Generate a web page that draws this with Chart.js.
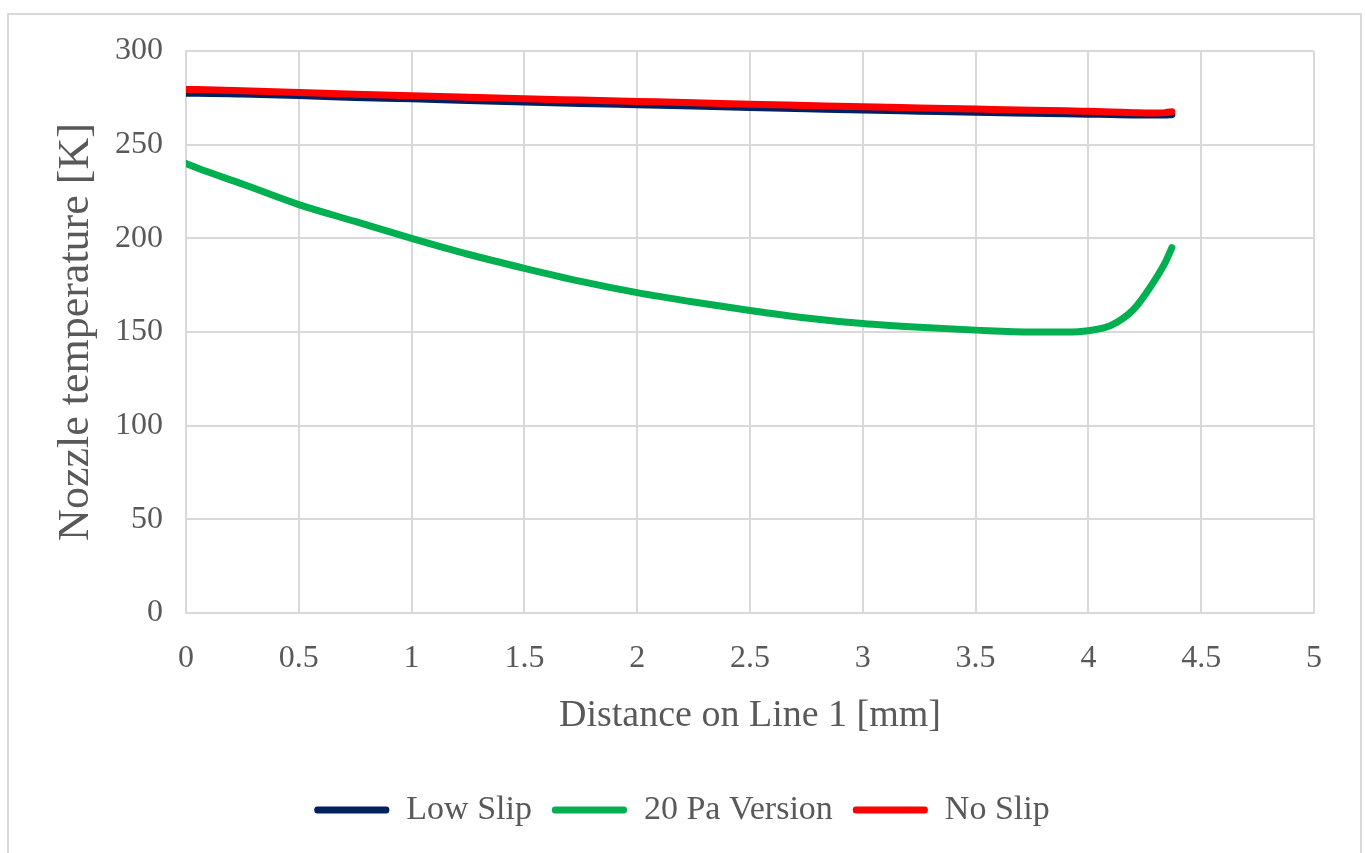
<!DOCTYPE html>
<html>
<head>
<meta charset="utf-8">
<script src="https://cdn.jsdelivr.net/npm/chart.js@4.4.1/dist/chart.umd.min.js"></script>
<style>
  body { margin: 0; background: #ffffff; }
  #frame { position: absolute; left: 7px; top: 13px; width: 1351px; height: 850px; border: 2px solid #d9d9d9; border-bottom: none; }
  #chart { position: absolute; left: 0; top: 0; }
</style>
</head>
<body>
<div id="frame"></div>
<canvas id="chart" width="1365" height="853"></canvas>
<script>
// distance along line 1 [mm]
const distance = [0, 0.05, 0.25, 0.5, 0.75, 1, 1.25, 1.5, 1.75, 2, 2.25, 2.5, 2.75, 3, 3.25, 3.5, 3.75, 3.9, 4.0, 4.1, 4.2, 4.28, 4.34, 4.37];

// nozzle temperature [K] for each case
const lowSlip = [277.5, 277.5, 277, 276.2, 275.2, 274.5, 273.6, 272.8, 272, 271.3, 270.6, 269.9, 269.2, 268.5, 267.9, 267.3, 266.8, 266.5, 266.3, 266.1, 265.9, 265.8, 265.8, 266];
const pa20 = [240, 237.5, 229, 218, 209, 200, 191.5, 184, 177, 171, 166, 161.5, 157.5, 154.5, 152.5, 151, 150, 150, 150.7, 153.5, 162, 175, 187, 195];
const noSlip = [279.5, 279.4, 278.8, 277.9, 276.9, 276.1, 275.3, 274.5, 273.8, 273.1, 272.4, 271.6, 270.9, 270.2, 269.6, 269, 268.4, 268.1, 267.8, 267.5, 267.1, 266.9, 267.1, 267.6];

const xTicks = [0, 0.5, 1, 1.5, 2, 2.5, 3, 3.5, 4, 4.5, 5];
const yTicks = [0, 50, 100, 150, 200, 250, 300];

const seriesNames = ['Low Slip', '20 Pa Version', 'No Slip'];
const seriesColors = ['#002060', '#00B050', '#FF0000'];
const seriesValues = [lowSlip, pa20, noSlip];

const textColor = '#595959';
const gridColor = '#d9d9d9';
const fontFamily = "'Liberation Serif', 'DejaVu Serif', serif";

function toPoints(ys) {
  return distance.map((x, i) => ({ x: x, y: ys[i] }));
}

const datasets = seriesNames.map((name, i) => ({
  label: name,
  data: toPoints(seriesValues[i]),
  borderColor: seriesColors[i],
  backgroundColor: seriesColors[i],
  borderWidth: 7,
  borderCapStyle: 'round',
  borderJoinStyle: 'round',
  pointRadius: 0,
  cubicInterpolationMode: 'monotone',
  fill: false,
  order: 3 - i   // red on top, navy underneath
}));

const ctx = document.getElementById('chart').getContext('2d');
const chart = new Chart(ctx, {
  type: 'line',
  data: { datasets: datasets },
  options: {
    responsive: false,
    animation: false,
    devicePixelRatio: 1,
    layout: { padding: { left: 50, right: 51, top: 51, bottom: 16 } },
    scales: {
      x: {
        type: 'linear',
        min: 0,
        max: 5,
        afterBuildTicks: (scale) => { scale.ticks = xTicks.map(v => ({ value: v })); },
        ticks: { color: textColor, font: { family: fontFamily, size: 32 }, padding: 26, maxRotation: 0, callback: (v) => String(v) },
        grid: { color: gridColor, lineWidth: 2, drawTicks: false },
        border: { color: gridColor, width: 2 },
        title: { display: true, text: 'Distance on Line 1 [mm]', color: textColor, font: { family: fontFamily, size: 38 }, padding: { top: 0, bottom: 34 } },
        afterFit: (scale) => { scale.height = 160; }
      },
      y: {
        min: 0,
        max: 300,
        afterBuildTicks: (scale) => { scale.ticks = yTicks.map(v => ({ value: v })); },
        ticks: { color: textColor, font: { family: fontFamily, size: 32 }, padding: 23 },
        grid: { color: gridColor, lineWidth: 2, drawTicks: false },
        border: { color: gridColor, width: 2 },
        title: { display: true, text: 'Nozzle temperature [K]', color: textColor, font: { family: fontFamily, size: 44 }, padding: 0 },
        afterFit: (scale) => { scale.width = 186 - 50; }
      }
    },
    plugins: {
      tooltip: { enabled: false },
      legend: {
        position: 'bottom',
        labels: {
          color: textColor,
          font: { family: fontFamily, size: 34 },
          boxWidth: 75,
          boxHeight: 7,
          padding: 20,
          useBorderRadius: true,
          borderRadius: 3,
          generateLabels: (c) => c.data.datasets.map((ds, i) => ({
            text: ds.label,
            fillStyle: ds.borderColor,
            strokeStyle: ds.borderColor,
            lineWidth: 0,
            fontColor: textColor,
            borderRadius: 3,
            hidden: false,
            datasetIndex: i
          }))
        }
      }
    }
  }
});
</script>
</body>
</html>
